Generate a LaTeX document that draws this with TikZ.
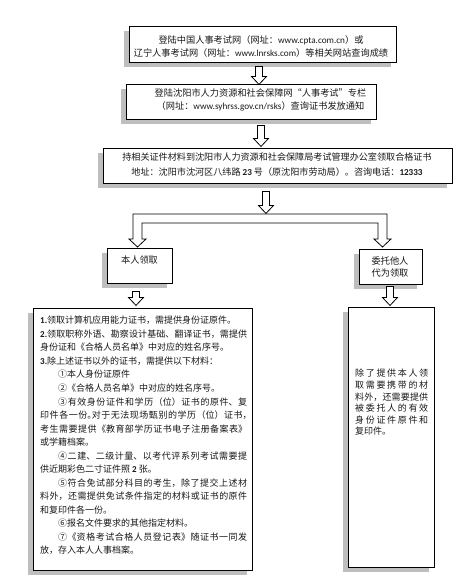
\documentclass[tikz,border=0pt]{standalone}
\usepackage{fontspec}
\setmainfont{Noto Sans CJK SC}
\newfontfamily\lat{Carlito}
\usetikzlibrary{shadows}
\XeTeXlinebreaklocale "zh"
\XeTeXlinebreakskip=0pt plus 1pt
\setlength\parindent{0pt}
\tolerance=9000\relax
\definecolor{shadowgray}{RGB}{190,190,190}
\definecolor{inkc}{RGB}{25,25,25}
\tikzset{
  flowbox/.style={draw=black, line width=0.9pt, fill=white, inner sep=0pt,
    drop shadow={shadow xshift=-5pt, shadow yshift=-5pt, fill=shadowgray, opacity=1}},
  boxtext/.style={text=inkc, inner sep=0pt, align=center},
  paratext/.style={text=inkc, inner sep=0pt, align=justify, anchor=north west},
  arrowst/.style={draw=black, line width=0.8pt, fill=white, line join=miter},
}
\newcommand\blockarr[2]{\draw[arrowst] (#1) ++(-3.5,0) -- ++(7,0) -- ++(0,#2-8) -- ++(4,0) -- ++(-7.5,8) -- ++(-7.5,-8) -- ++(4,0) -- cycle;}
\begin{document}
\begin{tikzpicture}[x=1pt,y=-1pt]
\useasboundingbox (0,0) rectangle (471,587);
\fill[white] (0,0) rectangle (471,587);

% boxes
\node[flowbox, minimum width=267pt, minimum height=36pt] (b1) at (262.5,44) {};
\node[flowbox, minimum width=250pt, minimum height=35pt] (b2) at (251,101.5) {};
\node[flowbox, minimum width=349pt, minimum height=35pt] (b3) at (277.5,165.5) {};
\node[flowbox, minimum width=65pt, minimum height=35pt] (b4) at (139.5,265.5) {};
\node[flowbox, minimum width=63pt, minimum height=35pt] (b5) at (390.5,266.5) {};
\node[flowbox, minimum width=219pt, minimum height=262pt] (b6) at (142.5,439) {};
\node[flowbox, minimum width=86pt, minimum height=260pt] (b7) at (391,437) {};

% texts
\node[boxtext, font=\fontsize{9.2}{12.7}\selectfont] (t1) at (261,46.3)
  {登陆中国人事考试网（网址：{\lat www.cpta.com.cn}）或\\辽宁人事考试网（网址：{\lat www.lnrsks.com}）等相关网站查询成绩};
\node[boxtext, font=\fontsize{9.2}{13.3}\selectfont] (t2) at (260.5,100)
  {登陆沈阳市人力资源和社会保障网“人事考试”专栏\\（网址：{\lat www.syhrss.gov.cn/rsks}）查询证书发放通知};
\node[boxtext, font=\fontsize{9.1}{15.6}\selectfont] (t3) at (277,164.5)
  {持相关证件材料到沈阳市人力资源和社会保障局考试管理办公室领取合格证书\\地址：沈阳市沈河区八纬路 {\lat\bfseries 23} 号（原沈阳市劳动局）。咨询电话：{\lat\bfseries 12333}};
\node[boxtext, font=\fontsize{9.2}{12}\selectfont] (t4) at (139.5,260) {本人领取};
\node[boxtext, font=\fontsize{9.2}{12}\selectfont] (t5) at (390,267) {委托他人\\代为领取};

\node[paratext, text width=207pt, font=\fontsize{9}{13.53}\selectfont] (t6) at (40,316) {%
{\lat\bfseries 1.}领取计算机应用能力证书，需提供身份证原件。\par
{\lat\bfseries 2.}领取职称外语、勘察设计基础、翻译证书，需提供\linebreak 身份证和《合格人员名单》中对应的姓名序号。\par
{\lat\bfseries 3.}除上述证书以外的证书，需提供以下材料：\par
\hspace*{2em}①本人身份证原件\par
\hspace*{2em}②《合格人员名单》中对应的姓名序号。\par
\hspace*{2em}③有效身份证件和学历（位）证书的原件、复\linebreak 印件各一份。\kern-4.5pt 对于无法现场甄别的学历（位）证书\makebox[4.5pt][l]{，}\linebreak 考生需要提供《教育部学历证书电子注册备案表》\linebreak 或学籍档案。\par
\hspace*{2em}④二建、二级计量、以考代评系列考试需要提\linebreak 供近期彩色二寸证件照 {\lat\bfseries 2} 张。\par
\hspace*{2em}⑤符合免试部分科目的考生，除了提交上述材\linebreak 料外，还需提供免试条件指定的材料或证书的原件\linebreak 和复印件各一份。\par
\hspace*{2em}⑥报名文件要求的其他指定材料。\par
\hspace*{2em}⑦《资格考试合格人员登记表》随证书一同发\linebreak 放，存入本人人事档案。\par};

\node[paratext, text width=73pt, font=\fontsize{9}{11.6}\selectfont] (t7) at (355,369) {%
除了提供本人领\linebreak 取需要携带的材\linebreak 料外，还需要提供\linebreak 被委托人的有效\linebreak 身份证件原件和\linebreak 复印件。\par};

% arrows
\coordinate (a1) at ([xshift=-3.5pt,yshift=-4pt]b1.south);
\coordinate (a2) at ([xshift=10pt,yshift=-6pt]b2.south);
\coordinate (a3) at ([xshift=-11.5pt,yshift=-8pt]b3.south);
\coordinate (a4) at ([xshift=-3.5pt,yshift=-8pt]b4.south);
\coordinate (a5) at ([xshift=-0.5pt,yshift=-2pt]b5.south);
\blockarr{a1}{18}
\blockarr{a2}{21}
\blockarr{a3}{22}
\blockarr{a4}{14}
\blockarr{a5}{19}

% branching bracket
\coordinate (br) at (133,214);
\draw[arrowst] (br) -- ++(254,0) -- ++(0,25) -- ++(4,0) -- ++(-8.5,8) -- ++(-8.5,-8) -- ++(4,0)
  -- ++(0,-16) -- ++(-236,0) -- ++(0,16) -- ++(4,0) -- ++(-8.5,8) -- ++(-8.5,-8) -- ++(4,0) -- cycle;
\end{tikzpicture}
\end{document}
